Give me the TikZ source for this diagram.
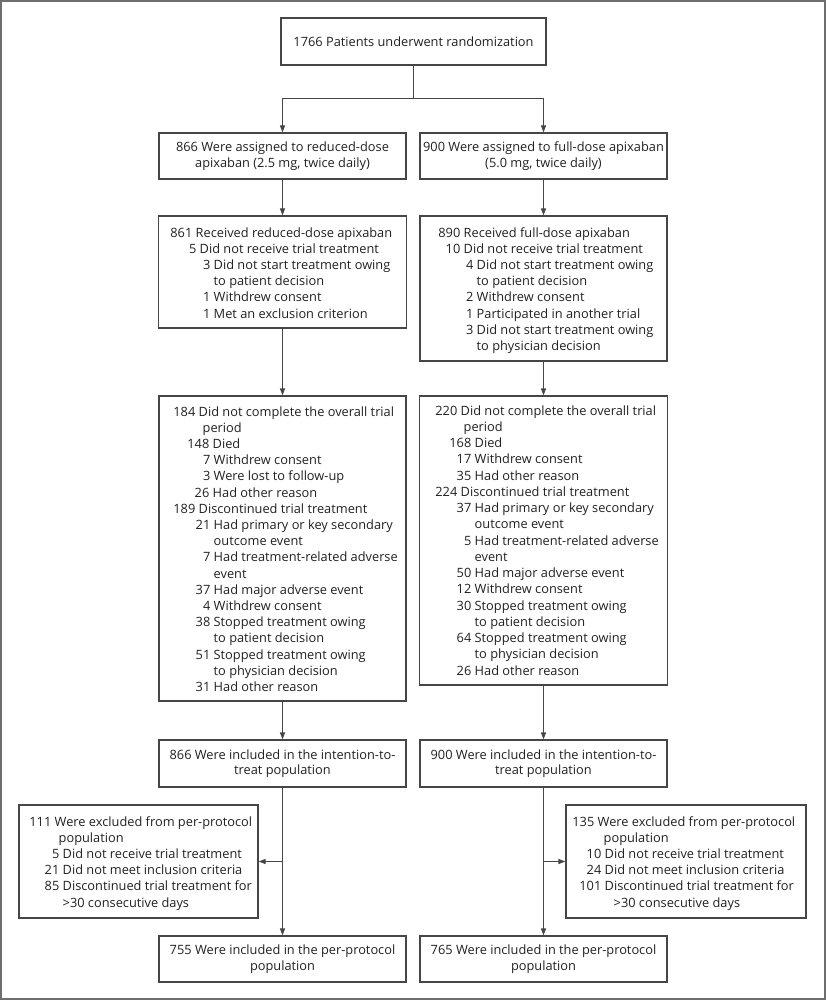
\documentclass[tikz,border=0pt]{standalone}
\usepackage{fontspec}
\setmainfont{Open Sans}
\usetikzlibrary{arrows.meta}
\definecolor{ink}{RGB}{35,31,32}
\definecolor{edge}{RGB}{70,70,70}
\definecolor{framec}{RGB}{110,110,110}
\newcommand\Ln[3]{\hbox to 0pt{\hspace*{#1pt}\llap{#2\ }#3\hss}}
\begin{document}
\begin{tikzpicture}[x=1pt,y=-1pt,
  font=\fontsize{12.8}{15.5}\selectfont, text=ink,
  box/.style={draw=edge, line width=1.1pt, inner sep=0pt, align=center},
  lst/.style={inner sep=0pt, anchor=base west},
  arr/.style={draw=edge, line width=1.1pt, -{Triangle[length=7pt,width=5pt]}},
  ln/.style={draw=edge, line width=1.1pt}]
\useasboundingbox (0,0) rectangle (826,1000);
\draw[framec, line width=2pt] (1,1) rectangle (825,999);

% boxes
\node[box, minimum width=265pt, minimum height=47pt] (top) at (413.5,41.5) {1766 Patients underwent randomization};
\node[box, minimum width=247pt, minimum height=46pt] (A) at (282.5,156) {866 Were assigned to reduced-dose\\apixaban (2.5 mg, twice daily)};
\node[box, minimum width=247pt, minimum height=46pt] (B) at (543.5,156) {900 Were assigned to full-dose apixaban\\(5.0 mg, twice daily)};
\node[box, minimum width=248pt, minimum height=112pt] (C) at (282.5,272) {};
\node[box, minimum width=247pt, minimum height=145pt] (D) at (543.5,288.5) {};
\node[box, minimum width=247pt, minimum height=305pt] (E) at (282.5,548.5) {};
\node[box, minimum width=248pt, minimum height=289pt] (F) at (543.5,540.5) {};
\node[box, minimum width=247pt, minimum height=47pt] (G) at (282.5,763.5) {866 Were included in the intention-to-\\treat population};
\node[box, minimum width=247pt, minimum height=47pt] (H) at (543.5,763.5) {900 Were included in the intention-to-\\treat population};
\node[box, minimum width=239pt, minimum height=113pt] (Lx) at (138.5,861.5) {};
\node[box, minimum width=240pt, minimum height=113pt] (Rx) at (686,861.5) {};
\node[box, minimum width=247pt, minimum height=46pt] (I) at (282.5,959) {755 Were included in the per-protocol\\population};
\node[box, minimum width=247pt, minimum height=46pt] (J) at (543.5,959) {765 Were included in the per-protocol\\population};

% list texts
\node[lst] (Ct) at (158,237) {\vtop{\baselineskip=16.2pt
\Ln{37}{861}{Received reduced-dose apixaban}
\Ln{41}{5}{Did not receive trial treatment}
\Ln{55}{3}{Did not start treatment owing}
\Ln{55}{}{to patient decision}
\Ln{55}{1}{Withdrew consent}
\Ln{55}{1}{Met an exclusion criterion}}};

\node[lst] (Dt) at (420,237) {\vtop{\baselineskip=16.2pt
\Ln{43}{890}{Received full-dose apixaban}
\Ln{43}{10}{Did not receive trial treatment}
\Ln{56}{4}{Did not start treatment owing}
\Ln{56}{}{to patient decision}
\Ln{56}{2}{Withdrew consent}
\Ln{56}{1}{Participated in another trial}
\Ln{56}{3}{Did not start treatment owing}
\Ln{56}{}{to physician decision}}};

\node[lst] (Et) at (160,416) {\vtop{\baselineskip=16.2pt
\Ln{38}{184}{Did not complete the overall trial}
\Ln{42}{}{period}
\Ln{52}{148}{Died}
\Ln{53}{7}{Withdrew consent}
\Ln{53}{3}{Were lost to follow-up}
\Ln{52}{26}{Had other reason}
\Ln{38}{189}{Discontinued trial treatment}
\Ln{53}{21}{Had primary or key secondary}
\Ln{53}{}{outcome event}
\Ln{53}{7}{Had treatment-related adverse}
\Ln{53}{}{event}
\Ln{53}{37}{Had major adverse event}
\Ln{53}{4}{Withdrew consent}
\Ln{53}{38}{Stopped treatment owing}
\Ln{53}{}{to patient decision}
\Ln{53}{51}{Stopped treatment owing}
\Ln{53}{}{to physician decision}
\Ln{53}{31}{Had other reason}}};

\node[lst] (Ft) at (420,415) {\vtop{\baselineskip=16.25pt
\Ln{40}{220}{Did not complete the overall trial}
\Ln{43}{}{period}
\Ln{54}{168}{Died}
\Ln{54}{17}{Withdrew consent}
\Ln{54}{35}{Had other reason}
\Ln{40}{224}{Discontinued trial treatment}
\Ln{54}{37}{Had primary or key secondary}
\Ln{54}{}{outcome event}
\Ln{54}{5}{Had treatment-related adverse}
\Ln{54}{}{event}
\Ln{54}{50}{Had major adverse event}
\Ln{54}{12}{Withdrew consent}
\Ln{54}{30}{Stopped treatment owing}
\Ln{54}{}{to patient decision}
\Ln{54}{64}{Stopped treatment owing}
\Ln{54}{}{to physician decision}
\Ln{54}{26}{Had other reason}}};

\node[lst] (Lt) at (19,826) {\vtop{\baselineskip=16.2pt
\Ln{35}{111}{Were excluded from per-protocol}
\Ln{39}{}{population}
\Ln{43}{5}{Did not receive trial treatment}
\Ln{43}{21}{Did not meet inclusion criteria}
\Ln{43}{85}{Discontinued trial treatment for}
\Ln{43}{}{>30 consecutive days}}};

\node[lst] (Rt) at (566,826) {\vtop{\baselineskip=16.2pt
\Ln{31}{135}{Were excluded from per-protocol}
\Ln{37}{}{population}
\Ln{38}{10}{Did not receive trial treatment}
\Ln{38}{24}{Did not meet inclusion criteria}
\Ln{38}{101}{Discontinued trial treatment for}
\Ln{47}{}{>30 consecutive days}}};

% connectors
\coordinate (split) at (413.5,98.5);
\draw[ln] (top.south) -- (split);
\draw[arr] (split) -| (A.north);
\draw[arr] (split) -| (B.north);
\draw[arr] (A.south) -- (A.south |- C.north);
\draw[arr] (B.south) -- (B.south |- D.north);
\draw[arr] (C.south) -- (C.south |- E.north);
\draw[arr] (D.south) -- (D.south |- F.north);
\draw[arr] (E.south) -- (E.south |- G.north);
\draw[arr] (F.south) -- (F.south |- H.north);
\draw[arr] (G.south) -- (G.south |- I.north);
\draw[arr] (H.south) -- (H.south |- J.north);
\coordinate (bl) at (G.south |- Lx.east);
\coordinate (br) at (H.south |- Rx.west);
\draw[arr] (bl) -- (Lx.east);
\draw[arr] (br) -- (Rx.west);
\end{tikzpicture}
\end{document}
